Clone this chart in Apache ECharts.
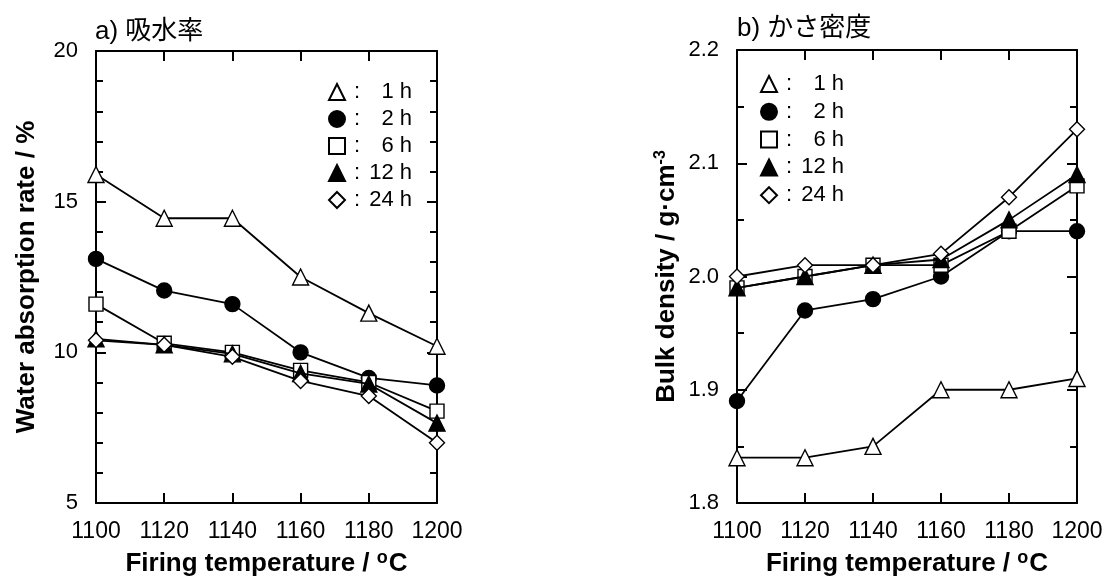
<!DOCTYPE html>
<html>
<head>
<meta charset="utf-8">
<script src="https://cdn.jsdelivr.net/npm/echarts@6/dist/echarts.min.js"></script>
<style>
  html, body { margin: 0; padding: 0; background: #fff; }
  #chart { width: 1106px; height: 582px; }
</style>
</head>
<body>
<div id="chart"></div>
<script>
// Firing temperatures (°C) shared by both panels
const temperatures = [1100, 1120, 1140, 1160, 1180, 1200];
// Firing (holding) times
const durations = ['1 h', '2 h', '6 h', '12 h', '24 h'];

// a) Water absorption rate (%)
const absorption1h  = [15.9, 14.45, 14.45, 12.5, 11.3, 10.2];
const absorption2h  = [13.1, 12.05, 11.6, 10.0, 9.15, 8.9];
const absorption6h  = [11.6, 10.3, 10.0, 9.4, 9.0, 8.05];
const absorption12h = [10.45, 10.25, 9.95, 9.3, 8.95, 7.65];
const absorption24h = [10.4, 10.25, 9.85, 9.05, 8.55, 7.0];

// b) Bulk density (g·cm-3)
const density1h  = [1.84, 1.84, 1.85, 1.90, 1.90, 1.91];
const density2h  = [1.89, 1.97, 1.98, 2.00, 2.04, 2.04];
const density6h  = [1.99, 2.00, 2.01, 2.01, 2.04, 2.08];
const density12h = [1.99, 2.00, 2.01, 2.015, 2.05, 2.09];
const density24h = [2.00, 2.01, 2.01, 2.02, 2.07, 2.13];

// Axis tick labels
const absorptionTicks = [5, 10, 15, 20];
const densityTicks = ['1.8', '1.9', '2.0', '2.1', '2.2'];

const absorptionSets = [absorption1h, absorption2h, absorption6h, absorption12h, absorption24h];
const densitySets = [density1h, density2h, density6h, density12h, density24h];

// Marker per firing time: open triangle, filled circle, open square, filled triangle, open diamond
const markers = [
  { symbol: 'triangle', size: 16, fill: '#fff' },
  { symbol: 'circle',   size: 15, fill: '#000' },
  { symbol: 'rect',     size: 14, fill: '#fff' },
  { symbol: 'triangle', size: 16, fill: '#000' },
  { symbol: 'diamond',  size: 15, fill: '#fff' }
];

const FONT = '"Liberation Sans", Arial, Helvetica, "Noto Sans CJK JP", sans-serif';

function buildSeries(sets, gridIdx) {
  return sets.map((vals, i) => ({
    name: durations[i],
    type: 'line',
    xAxisIndex: gridIdx * 2,
    yAxisIndex: gridIdx * 2,
    data: temperatures.map((t, k) => [t, vals[k]]),
    symbol: markers[i].symbol,
    symbolSize: markers[i].size,
    showAllSymbol: true,
    lineStyle: { color: '#000', width: 1.8 },
    itemStyle: { color: markers[i].fill, borderColor: '#000', borderWidth: 1.4 },
    emphasis: { disabled: true },
    animation: false,
    z: 2 + i
  }));
}

function xAxes(gridIdx) {
  const common = {
    type: 'value', gridIndex: gridIdx, min: 1100, max: 1200, interval: 20,
    axisLine: { show: true, onZero: false, lineStyle: { color: '#000', width: 2 } },
    axisTick: { show: true, inside: true, length: 10, lineStyle: { color: '#000', width: 2 } },
    splitLine: { show: false }
  };
  return [
    Object.assign({}, common, {
      position: 'bottom',
      axisLabel: { show: true, color: '#000', fontSize: 23, fontFamily: FONT, margin: 17, formatter: v => String(v) },
      name: 'Firing temperature / {s|o}C',
      nameLocation: 'middle',
      nameGap: 46,
      nameTextStyle: {
        color: '#000', fontSize: 26, fontWeight: 'bold', fontFamily: FONT,
        rich: { s: { fontSize: 18, fontWeight: 'bold', fontFamily: FONT, verticalAlign: 'top', padding: [0, 1, 11, 0] } }
      }
    }),
    Object.assign({}, common, { position: 'top', axisLabel: { show: false } })
  ];
}

function yAxes(gridIdx, cfg) {
  const common = {
    type: 'value', gridIndex: gridIdx, min: cfg.min, max: cfg.max, interval: cfg.interval,
    axisLine: { show: true, onZero: false, lineStyle: { color: '#000', width: 2 } },
    axisTick: { show: true, inside: true, length: 10, lineStyle: { color: '#000', width: 2 } },
    minorTick: { show: true, splitNumber: cfg.minor, length: 7, lineStyle: { color: '#000', width: 2 } },
    splitLine: { show: false },
    minorSplitLine: { show: false }
  };
  return [
    Object.assign({}, common, {
      position: 'left',
      axisLabel: { show: true, color: '#000', fontSize: 22, fontFamily: FONT, margin: 18, formatter: cfg.fmt },
      name: cfg.name,
      nameLocation: 'middle',
      nameGap: cfg.nameGap,
      nameTextStyle: {
        color: '#000', fontSize: 26, fontWeight: 'bold', fontFamily: FONT,
        rich: { s: { fontSize: 16, fontWeight: 'bold', fontFamily: FONT, verticalAlign: 'top', padding: [0, 0, 11, 0] } }
      }
    }),
    Object.assign({}, common, { position: 'right', axisLabel: { show: false } })
  ];
}

function legendFor(left, top, gap) {
  return {
    left: left, top: top, orient: 'vertical', padding: 0,
    itemWidth: 16, itemHeight: 16, itemGap: gap,
    selectedMode: false,
    data: durations.map((d, i) => ({ name: d, icon: markers[i].symbol })),
    lineStyle: { width: 0, opacity: 0 },
    formatter: name => '{c|:}{v|' + name + '}',
    textStyle: {
      color: '#000', fontSize: 22, fontFamily: FONT,
      rich: {
        c: { width: 12, padding: [0, 0, 0, 4], fontSize: 22, fontFamily: FONT, lineHeight: 22 },
        v: { width: 46, align: 'right', fontSize: 22, fontFamily: FONT, lineHeight: 22 }
      }
    }
  };
}

const absFmt = v => (absorptionTicks.indexOf(v) >= 0 ? String(v) : '');
const denFmt = v => {
  const s = v.toFixed(1);
  return densityTicks.indexOf(s) >= 0 ? s : '';
};

const option = {
  backgroundColor: '#fff',
  animation: false,
  textStyle: { fontFamily: FONT },
  title: [
    { text: 'a) 吸水率', left: 95, top: 19, padding: 0, textStyle: { color: '#000', fontSize: 26, fontWeight: 'normal', fontFamily: FONT } },
    { text: 'b) かさ密度', left: 737, top: 16, padding: 0, textStyle: { color: '#000', fontSize: 26, fontWeight: 'normal', fontFamily: FONT } }
  ],
  legend: [legendFor(328, 81, 5), legendFor(760, 73, 5.8)],
  grid: [
    { left: 96, top: 51, width: 341, height: 452, outerBoundsMode: 'none' },
    { left: 737, top: 50, width: 340, height: 453, outerBoundsMode: 'none' }
  ],
  xAxis: xAxes(0).concat(xAxes(1)),
  yAxis: yAxes(0, { min: 5, max: 20, interval: 5, minor: 5, fmt: absFmt, name: 'Water absorption rate / %', nameGap: 56 })
    .concat(yAxes(1, { min: 1.8, max: 2.2, interval: 0.1, minor: 2, fmt: denFmt, name: 'Bulk density / g·cm{s|-3}', nameGap: 57 })),
  series: buildSeries(absorptionSets, 0).concat(buildSeries(densitySets, 1))
};

const chart = echarts.init(document.getElementById('chart'), null, { renderer: 'canvas' });
chart.setOption(option);
</script>
</body>
</html>
